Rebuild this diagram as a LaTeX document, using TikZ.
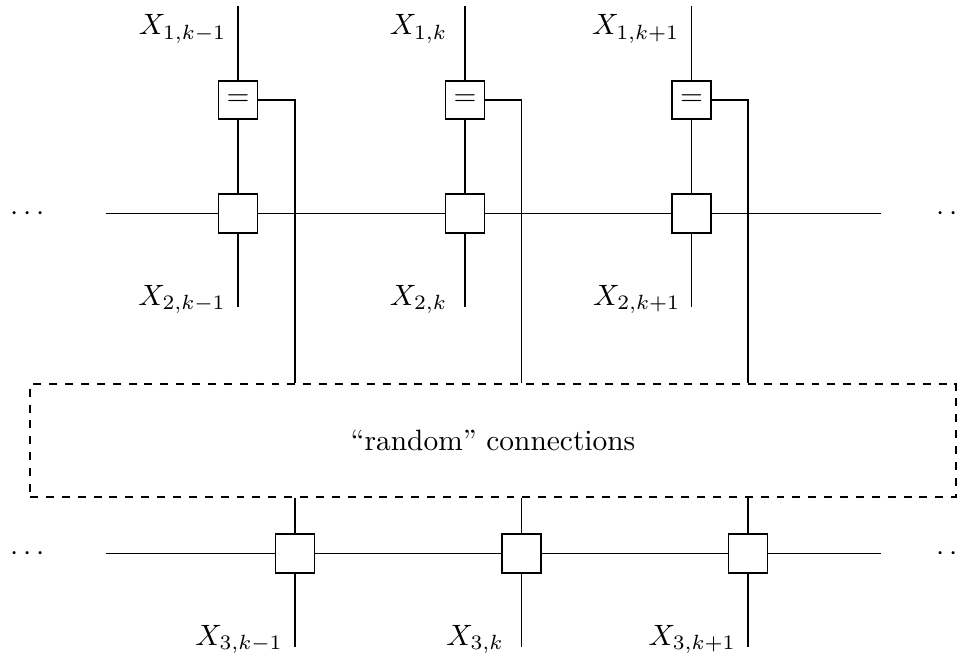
\documentclass[tikz,border=0pt]{standalone}
\begin{document}
\begin{tikzpicture}[x=0.340pt,y=-0.340pt,
  every path/.style={line width=0.4pt},
  varbox/.style={draw, fill=white, minimum width=13.26pt, minimum height=13.26pt, inner sep=0pt},
  eqbox/.style={draw, fill=white, minimum width=13.26pt, minimum height=12.9pt, inner sep=0pt},
  lab/.style={anchor=base east, inner sep=0pt},
  ellipsisnode/.style={inner sep=0pt},
  cloud/.style={draw, dash pattern=on 2.7pt off 2.7pt, minimum width=314.8pt, minimum height=38.4pt, inner sep=0pt}]

\useasboundingbox (0,0) rectangle (964,658);

% upper chain: equality checks and variable nodes
\foreach \i/\x in {1/238,2/465,3/691.5}{
  \coordinate (t\i) at (\x,6);
  \coordinate (d\i) at (\x,307);
  \node[eqbox] (e\i) at (\x,100) {$=$};
  \node[varbox] (v\i) at (\x,213.5) {};
}

% the interleaver
\node[cloud] (rc) at (493,440.5) {``random'' connections};

% lower chain
\foreach \i/\x in {1/295,2/521.5,3/748}{
  \node[varbox] (w\i) at (\x,553.5) {};
  \coordinate (u\i) at (\x,647);
}

% horizontal chains with their continuation dots
\coordinate (a1) at (106,213.5);
\coordinate (b1) at (881,213.5);
\coordinate (a2) at (106,553.5);
\coordinate (b2) at (881,553.5);
\node[ellipsisnode] (ld1) at (27.5,213.5) {$\cdots$};
\node[ellipsisnode] (rd1) at (954,213.5) {$\cdots$};
\node[ellipsisnode] (ld2) at (27.5,553.5) {$\cdots$};
\node[ellipsisnode] (rd2) at (954,553.5) {$\cdots$};

\draw (a1) -- (v1) -- (v2) -- (v3) -- (b1);
\draw (a2) -- (w1) -- (w2) -- (w3) -- (b2);

% vertical wires
\foreach \i in {1,2,3}{
  \draw (t\i) -- (e\i) -- (v\i) -- (d\i);
  \draw (e\i.east) -| (rc.north -| w\i);
  \draw (rc.south -| w\i) -- (w\i) -- (u\i);
}

% variable labels
\node[lab] (x11) at (227,35) {$X_{1,k-1}$};
\node[lab] (x12) at (448,35) {$X_{1,k}$};
\node[lab] (x13) at (680,35) {$X_{1,k+1}$};
\node[lab] (x21) at (226.5,305) {$X_{2,k-1}$};
\node[lab] (x22) at (448,305) {$X_{2,k}$};
\node[lab] (x23) at (681,305) {$X_{2,k+1}$};
\node[lab] (x31) at (283.5,645) {$X_{3,k-1}$};
\node[lab] (x32) at (504.5,645) {$X_{3,k}$};
\node[lab] (x33) at (736.5,645) {$X_{3,k+1}$};
\end{tikzpicture}
\end{document}
